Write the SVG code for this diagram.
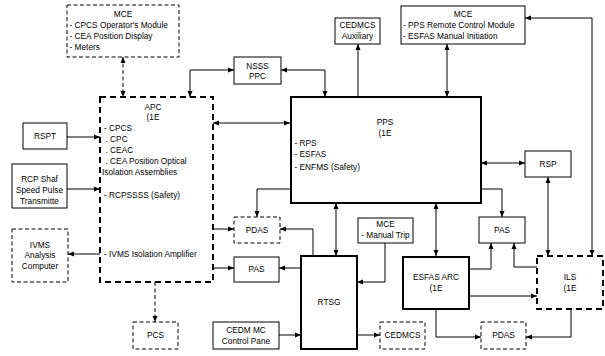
<svg xmlns="http://www.w3.org/2000/svg" width="605" height="356" viewBox="0 0 605 356">
<style>
text{font-family:"Liberation Sans",Arial,sans-serif;font-size:8.3px;fill:#000}
.c{text-anchor:middle}
.b{fill:#fff;stroke:#000;stroke-width:1}
.bt{fill:#fff;stroke:#000;stroke-width:2}
.d{fill:#fff;stroke:#000;stroke-width:1;stroke-dasharray:4 2.5}
.dt{fill:#fff;stroke:#000;stroke-width:2;stroke-dasharray:6 4}
.l{fill:none;stroke:#000;stroke-width:1}
.ld{fill:none;stroke:#000;stroke-width:1;stroke-dasharray:4 2.5}
.a2{marker-start:url(#ah);marker-end:url(#ah)}
.a1{marker-end:url(#ah)}
</style>
<defs>
<marker id="ah" markerUnits="userSpaceOnUse" markerWidth="6" markerHeight="6" refX="6" refY="3" orient="auto-start-reverse">
<path d="M0,0.5 L6,3 L0,5.5 z" fill="#000"/>
</marker>
</defs>
<rect width="605" height="356" fill="#fff"/>
<g id="connectors">
<path class="ld a2" d="M123,57 V97"/>
<path class="l a2" d="M190,97 V70 H234"/>
<path class="l a2" d="M281,70 H325 V97"/>
<path class="l a1" d="M358,97 V44"/>
<path class="l a2" d="M447,44 V97"/>
<path class="l a2" d="M592,256 V18 H525"/>
<path class="l a1" d="M67,137 H100"/>
<path class="l a1" d="M67,189 H100"/>
<path class="l a1" d="M100,254 H68"/>
<path class="l a2" d="M213,123 H290"/>
<path class="l a1" d="M290,189 H257 V217"/>
<path class="l a1" d="M213,229 H234"/>
<path class="l a1" d="M313,256 V229 H280"/>
<path class="l a2" d="M336,203 V256"/>
<path class="l a1" d="M213,268 H234"/>
<path class="l a1" d="M301,268 H279"/>
<path class="ld a1" d="M155,282 V322"/>
<path class="l a1" d="M279,335 H301"/>
<path class="l a1" d="M357,335 H380"/>
<path class="l a1" d="M385,243 V282 H357"/>
<path class="l a2" d="M436,203 V256"/>
<path class="l a2" d="M481,163 H525"/>
<path class="l a1" d="M481,189 H502 V217"/>
<path class="l a2" d="M548,177 V256"/>
<path class="l a1" d="M469,269 H491 V243"/>
<path class="l a1" d="M537,267 H514 V243"/>
<path class="l a1" d="M469,296 H537"/>
<path class="l a1" d="M436,309 V337 H481"/>
<path class="l a1" d="M571,309 V337 H526"/>
</g>
<g id="mce-left">
<rect class="d" x="67" y="5" width="112" height="52"/>
<text class="c" x="123" y="17">MCE</text>
<text x="69.5" y="28">- CPCS Operator's Module</text>
<text x="69.5" y="39">- CEA Position Display</text>
<text x="69.5" y="50">- Meters</text>
</g>
<g id="nsss-ppc">
<rect class="b" x="234" y="57" width="47" height="27"/>
<text class="c" x="257.5" y="68.5">NSSS</text>
<text class="c" x="257.5" y="79">PPC</text>
</g>
<g id="cedmcs-aux">
<rect class="b" x="335" y="18" width="45" height="26"/>
<text class="c" x="357.5" y="28">CEDMCS</text>
<text class="c" x="357.5" y="39">Auxiliary</text>
</g>
<g id="mce-right">
<rect class="b" x="401" y="6" width="124" height="38"/>
<text class="c" x="463" y="17">MCE</text>
<text x="403" y="28">- PPS Remote Control Module</text>
<text x="403" y="39">- ESFAS Manual Initiation</text>
</g>
<g id="apc">
<rect class="dt" x="100" y="97" width="113" height="185"/>
<text class="c" x="153" y="110">APC</text>
<text class="c" x="153" y="120">(1E</text>
<text x="104" y="131">- CPCS</text>
<text x="105.5" y="142">. CPC</text>
<text x="105.5" y="153">. CEAC</text>
<text x="105.5" y="164">. CEA Position Optical</text>
<text x="102" y="175">Isolation Assemblies</text>
<text x="104" y="198">- RCPSSSS (Safety)</text>
<text x="104" y="257">- IVMS Isolation Amplifier</text>
</g>
<g id="rspt">
<rect class="b" x="23" y="123" width="44" height="26"/>
<text class="c" x="45" y="139">RSPT</text>
</g>
<g id="rcp">
<rect class="b" x="12" y="164" width="55" height="44"/>
<text class="c" x="39.5" y="182">RCP Shaf</text>
<text class="c" x="39.5" y="193">Speed Pulse</text>
<text class="c" x="39.5" y="204">Transmitte</text>
</g>
<g id="ivms">
<rect class="d" x="12" y="229" width="56" height="53"/>
<text class="c" x="40" y="248">IVMS</text>
<text class="c" x="40" y="258">Analysis</text>
<text class="c" x="40" y="269">Computer</text>
</g>
<g id="pcs">
<rect class="d" x="133" y="322" width="45" height="27"/>
<text class="c" x="155.5" y="338">PCS</text>
</g>
<g id="pps">
<rect class="bt" x="291" y="97" width="190" height="106"/>
<text class="c" x="385" y="125">PPS</text>
<text class="c" x="385" y="136">(1E</text>
<text x="294.5" y="146">- RPS</text>
<text x="294.5" y="157">- ESFAS</text>
<text x="294.5" y="170">- ENFMS (Safety)</text>
</g>
<g id="pdas-left">
<rect class="d" x="234" y="217" width="46" height="26"/>
<text class="c" x="257" y="233">PDAS</text>
</g>
<g id="pas-left">
<rect class="b" x="234" y="257" width="45" height="25"/>
<text class="c" x="256.5" y="272">PAS</text>
</g>
<g id="cedm-mc">
<rect class="b" x="213" y="322" width="66" height="27"/>
<text class="c" x="246" y="333">CEDM MC</text>
<text class="c" x="246" y="344">Control Pane</text>
</g>
<g id="rtsg">
<rect class="bt" x="301" y="256" width="56" height="93"/>
<text class="c" x="329" y="305">RTSG</text>
</g>
<g id="cedmcs">
<rect class="d" x="380" y="322" width="45" height="27"/>
<text class="c" x="402.5" y="338">CEDMCS</text>
</g>
<g id="mce-trip">
<rect class="b" x="358" y="218" width="55" height="25"/>
<text class="c" x="385.5" y="227">MCE</text>
<text class="c" x="385.5" y="238">- Manual Trip</text>
</g>
<g id="esfas-arc">
<rect class="bt" x="403" y="257" width="66" height="52"/>
<text class="c" x="436" y="280">ESFAS ARC</text>
<text class="c" x="436" y="291">(1E</text>
</g>
<g id="rsp">
<rect class="b" x="525" y="151" width="46" height="26"/>
<text class="c" x="548" y="167">RSP</text>
</g>
<g id="pas-right">
<rect class="b" x="479" y="217" width="46" height="26"/>
<text class="c" x="502" y="233">PAS</text>
</g>
<g id="ils">
<rect class="dt" x="537" y="256" width="66" height="53"/>
<text class="c" x="570" y="280">ILS</text>
<text class="c" x="570" y="291">(1E</text>
</g>
<g id="pdas-right">
<rect class="d" x="481" y="322" width="45" height="27"/>
<text class="c" x="503.5" y="338">PDAS</text>
</g>
</svg>
